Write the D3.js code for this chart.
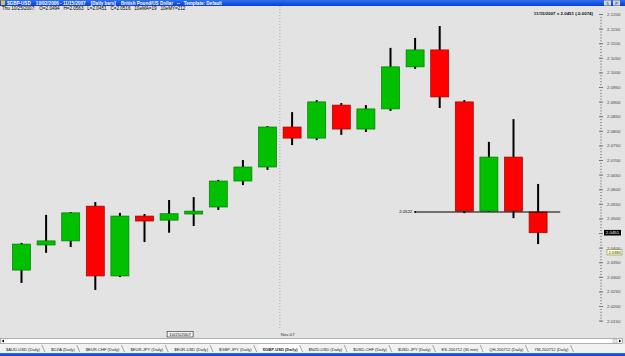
<!DOCTYPE html>
<html>
<head>
<meta charset="utf-8">
<script src="https://cdn.jsdelivr.net/npm/d3@7"></script>
<style>
  body { margin: 0; overflow: hidden; background: #e3e3e3; }
  text { font-family: Arial, "Liberation Sans", sans-serif; white-space: pre; }
</style>
</head>
<body>
<div id="chart"></div>
<script>
// daily bars, $GBP-USD
const dates = ["10/17/2007", "10/18/2007", "10/19/2007", "10/22/2007", "10/23/2007", "10/24/2007",
  "10/25/2007", "10/26/2007", "10/29/2007", "10/30/2007", "10/31/2007", "11/01/2007", "11/02/2007",
  "11/05/2007", "11/06/2007", "11/07/2007", "11/08/2007", "11/09/2007", "11/12/2007", "11/13/2007",
  "11/14/2007", "11/15/2007"];
const opens  = [2.0323, 2.0409, 2.0423, 2.0542, 2.0303, 2.0508, 2.0494, 2.0515, 2.0539, 2.0628, 2.0676,
  2.0813, 2.0775, 2.0888, 2.0806, 2.0875, 2.1019, 2.1077, 2.0899, 2.0525, 2.0710, 2.0522];
const highs  = [2.0416, 2.0512, 2.0522, 2.0556, 2.0519, 2.0515, 2.0563, 2.0573, 2.0632, 2.0700, 2.0816,
  2.0864, 2.0905, 2.0895, 2.0888, 2.1084, 2.1118, 2.1159, 2.0905, 2.0762, 2.0840, 2.0618];
const lows   = [2.0279, 2.0382, 2.0402, 2.0255, 2.0299, 2.0419, 2.0451, 2.0474, 2.0529, 2.0614, 2.0666,
  2.0751, 2.0768, 2.0786, 2.0796, 2.0868, 2.1012, 2.0878, 2.0518, 2.0522, 2.0501, 2.0412];
const closes = [2.0412, 2.0423, 2.0519, 2.0303, 2.0508, 2.0491, 2.0516, 2.0525, 2.0628, 2.0676, 2.0813,
  2.0775, 2.0899, 2.0806, 2.0875, 2.1019, 2.1077, 2.0916, 2.0525, 2.0710, 2.0525, 2.0451];

const priceTicks = [2.0150, 2.0200, 2.0250, 2.0300, 2.0350, 2.0400, 2.0450, 2.0500, 2.0550, 2.0600,
  2.0650, 2.0700, 2.0750, 2.0800, 2.0850, 2.0900, 2.0950, 2.1000, 2.1050, 2.1100, 2.1150, 2.1200];

const refLine = { from: "11/08/2007", value: 2.0522 };
const markerPrice = 2.0384;
const cursorDate = "10/25/2007";
const monthStart = "11/01/2007";

const tabs = ["$AUD-USD (Daily)", "$DJIA (Daily)", "$EUR-CHF (Daily)", "$EUR-JPY (Daily)",
  "$EUR-USD (Daily)", "$GBP-JPY (Daily)", "$GBP-USD (Daily)", "$NZD-USD (Daily)",
  "$USD-CHF (Daily)", "$USD-JPY (Daily)", "ES-200712 (30 min)", "QH-200712 (Daily)", "YM-200712 (Daily)"];
const activeTab = "$GBP-USD (Daily)";

const W = 625, H = 356;
const bars = dates.map((d, i) => ({ date: d, o: opens[i], h: highs[i], l: lows[i], c: closes[i] }));
let last = bars[bars.length - 1];

const svg = d3.select("#chart").append("svg")
    .attr("width", W)
    .attr("height", H);

// plot background
svg.append("rect").attr("width", W).attr("height", H).attr("fill", "#e3e3e3");

const x = d3.scalePoint()
    .domain(dates)
    .range([9.2, 550.4])
    .padding(0.5);
const step = x.step();
const bodyW = 18;

const y = d3.scaleLinear()
    .domain([2.0150, 2.1200])
    .range([320.6, 14]);

// month separator
let sepX = (x("10/31/2007") + x(monthStart)) / 2;
svg.append("line")
    .attr("x1", sepX).attr("x2", sepX)
    .attr("y1", 6).attr("y2", 330)
    .attr("stroke", "#9a9a9a")
    .attr("stroke-width", 0.8)
    .attr("stroke-dasharray", "1,2");

// right price axis
let axisX = 599;
let minor = svg.append("g")
    .attr("transform", "translate(" + (axisX + 1) + ",0)")
    .call(d3.axisRight(y).tickValues(d3.range(2.015, 2.1205, 0.001)).tickSize(2).tickFormat(""));
minor.select(".domain").remove();
minor.selectAll("line").attr("stroke", "#9a9a9a");

let yAxis = svg.append("g")
    .attr("transform", "translate(" + axisX + ",0)")
    .call(d3.axisRight(y).tickValues(priceTicks).tickSize(4).tickPadding(4).tickFormat(d3.format(".4f")));
yAxis.select(".domain").remove();
yAxis.selectAll("line").attr("stroke", "#777");
yAxis.selectAll("text")
    .attr("fill", "#444")
    .style("font-size", "4.4px");
// label hidden under the last-price box
yAxis.selectAll(".tick").filter(d => Math.abs(y(d) - y(last.c)) < 4).select("text").remove();

// candles
let candle = svg.append("g").selectAll("g")
    .data(bars)
    .enter()
    .append("g");

candle.append("line")
    .attr("x1", d => x(d.date)).attr("x2", d => x(d.date))
    .attr("y1", d => y(d.h)).attr("y2", d => y(d.l))
    .attr("stroke", "#000")
    .attr("stroke-width", 2);

candle.append("rect")
    .attr("x", d => x(d.date) - bodyW / 2)
    .attr("width", bodyW)
    .attr("y", d => y(Math.max(d.o, d.c)))
    .attr("height", d => Math.max(1.5, Math.abs(y(d.o) - y(d.c))))
    .attr("fill", d => d.c >= d.o ? "#00c000" : "#ff0000")
    .attr("stroke", d => d.c >= d.o ? "#007a00" : "#a00000")
    .attr("stroke-width", 0.7);

// horizontal reference line
let refX = x(refLine.from);
svg.append("line")
    .attr("x1", refX).attr("x2", x(dates[dates.length - 1]) + step * 0.9)
    .attr("y1", y(refLine.value)).attr("y2", y(refLine.value))
    .attr("stroke", "#000")
    .attr("stroke-width", 1.2);
svg.append("circle")
    .attr("cx", refX).attr("cy", y(refLine.value)).attr("r", 1)
    .attr("fill", "#000");
svg.append("text")
    .attr("x", refX - 3).attr("y", y(refLine.value) + 1.5)
    .attr("text-anchor", "end")
    .style("font-size", "4.2px")
    .text(refLine.value.toFixed(4));

// price boxes on axis
svg.append("rect")
    .attr("x", 604).attr("y", y(last.c) - 2.8)
    .attr("width", 17).attr("height", 5.6)
    .attr("fill", "#000");
svg.append("text")
    .attr("x", 612.5).attr("y", y(last.c) + 1.6)
    .attr("text-anchor", "middle")
    .attr("fill", "#fff")
    .style("font-size", "4.4px")
    .text(last.c.toFixed(4));

svg.append("rect")
    .attr("x", 607).attr("y", y(markerPrice) - 2.7)
    .attr("width", 15).attr("height", 5.4)
    .attr("fill", "#ffffc8")
    .attr("stroke", "#8a8a50")
    .attr("stroke-width", 0.6);
svg.append("text")
    .attr("x", 614.5).attr("y", y(markerPrice) + 1.5)
    .attr("text-anchor", "middle")
    .attr("fill", "#333")
    .style("font-size", "4px")
    .text(markerPrice.toFixed(4));

// header
let grad = svg.append("defs").append("linearGradient")
    .attr("id", "titleBlue").attr("x1", 0).attr("x2", 0).attr("y1", 0).attr("y2", 1);
grad.append("stop").attr("offset", "0%").attr("stop-color", "#2f6ff0");
grad.append("stop").attr("offset", "100%").attr("stop-color", "#0a3fcf");

svg.append("rect").attr("width", W).attr("height", 6).attr("fill", "url(#titleBlue)");
svg.append("rect").attr("x", 1).attr("y", 0.5).attr("width", 4).attr("height", 4.5).attr("fill", "#e8c040");
svg.append("text")
    .attr("x", 7).attr("y", 4.6)
    .attr("fill", "#fff")
    .style("font-size", "4.6px")
    .style("font-weight", "bold")
    .text("$GBP-USD    10/02/2006 - 11/15/2007    [Daily bars]    British Pound/US Dollar   --   Template: Default");
svg.append("rect").attr("x", 604).attr("y", 0.5).attr("width", 7).attr("height", 5).attr("fill", "#d8d8d8");
svg.append("rect").attr("x", 613).attr("y", 0.5).attr("width", 7).attr("height", 5).attr("fill", "#d8d8d8");
svg.append("text").attr("x", 607.5).attr("y", 4.6).attr("text-anchor", "middle").style("font-size", "4px").text("5");
svg.append("text").attr("x", 616.5).attr("y", 4.6).attr("text-anchor", "middle").style("font-size", "4px").text("P");

let cur = bars[dates.indexOf(cursorDate)];
svg.append("text")
    .attr("x", 2).attr("y", 10)
    .style("font-size", "4.6px")
    .text("Thu " + cursorDate + ":   O=" + cur.o.toFixed(4) + "   H=" + cur.h.toFixed(4) +
      "   L=" + cur.l.toFixed(4) + "   C=" + cur.c.toFixed(4) + "   10eMA=19   10eMY=212");

let prev = bars[bars.length - 2];
svg.append("text")
    .attr("x", 593).attr("y", 15)
    .attr("text-anchor", "end")
    .attr("fill", "#111")
    .style("font-size", "4.4px")
    .style("font-weight", "bold")
    .text(last.date.replace(/^0/, "") + " = " + last.c.toFixed(4) + " (" + (last.c - prev.c).toFixed(4) + ")");

// date labels under the plot
let cx = x(cursorDate) - 2;
svg.append("rect")
    .attr("x", cx).attr("y", 331.5)
    .attr("width", 26).attr("height", 5.5)
    .attr("fill", "#f4f4f4")
    .attr("stroke", "#222")
    .attr("stroke-width", 0.6);
svg.append("text")
    .attr("x", cx + 13).attr("y", 335.8)
    .attr("text-anchor", "middle")
    .style("font-size", "4.3px")
    .text(cursorDate);
svg.append("text")
    .attr("x", sepX + 1).attr("y", 335.8)
    .attr("fill", "#333")
    .style("font-size", "4.3px")
    .text("Nov-07");

// scroll bar
svg.append("rect")
    .attr("x", 0.5).attr("y", 338.5)
    .attr("width", 622).attr("height", 5)
    .attr("fill", "#fff")
    .attr("stroke", "#888")
    .attr("stroke-width", 0.6);
svg.append("path").attr("d", "M1.5,341 l2.5,-1.6 v3.2 z").attr("fill", "#000");
svg.append("rect").attr("x", 613).attr("y", 339).attr("width", 4).attr("height", 4).attr("fill", "#e6e6e6").attr("stroke", "#999").attr("stroke-width", 0.4);
svg.append("path").attr("d", "M619,339.4 l2.5,1.6 l-2.5,1.6 z").attr("fill", "#000");

// tabs row
svg.append("rect").attr("x", 0).attr("y", 344).attr("width", W).attr("height", 9).attr("fill", "#f2f2f2");
svg.append("rect").attr("x", 0).attr("y", 353).attr("width", W).attr("height", 3).attr("fill", "url(#titleBlue)");

let tx = 6;
let tabG = svg.append("g");
tabs.forEach(function (t) {
    let active = t === activeTab;
    let bg = tabG.append("path");
    let lbl = tabG.append("text")
        .attr("x", tx).attr("y", 350.5)
        .attr("fill", "#222")
        .style("font-size", "4.1px")
        .style("font-weight", active ? "bold" : "normal")
        .text(t);
    let w = lbl.node().getComputedTextLength();
    if (active) {
        bg.attr("d", "M" + (tx - 4) + ",344 H" + (tx + w + 2) + " l3,8 H" + (tx - 2) + " z")
          .attr("fill", "#fff");
    }
    tabG.append("line")
        .attr("x1", tx + w + 2).attr("x2", tx + w + 5)
        .attr("y1", 345).attr("y2", 352)
        .attr("stroke", "#555").attr("stroke-width", 0.5);
    tx += w + 11;
});
</script>
</body>
</html>
